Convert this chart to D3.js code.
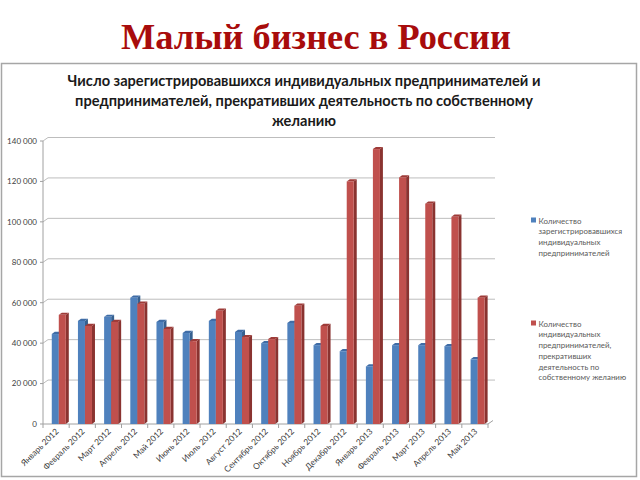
<!DOCTYPE html>
<html><head><meta charset="utf-8">
<script src="https://cdn.jsdelivr.net/npm/d3@7"></script>
<style>body{margin:0;background:#fff}svg{display:block}</style>
</head><body>
<svg id="c" width="640" height="480"></svg>
<script>
const months = ["Январь 2012","Февраль 2012","Март 2012","Апрель 2012","Май 2012","Июнь 2012","Июль 2012","Август 2012","Сентябрь 2012","Октябрь 2012","Ноябрь 2012","Декабрь 2012","Январь 2013","Февраль 2013","Март 2013","Апрель 2013","Май 2013"];
const registered = [44500,51000,53000,62500,50500,45000,51000,45500,40000,50000,39000,36000,28500,39000,39000,38500,32000];
const ceased = [54000,48500,50500,59500,47000,41000,56000,43000,42000,58500,48500,120000,136000,122000,109000,102500,62500];
const yTicks = [0,20000,40000,60000,80000,100000,120000,140000];
const seriesNames = [
  ["Количество","зарегистрировавшихся","индивидуальных","предпринимателей"],
  ["Количество","индивидуальных","предпринимателей,","прекративших","деятельность по","собственному желанию"]
];
const titleText = "Малый бизнес в России";
const chartTitle = ["Число зарегистрировавшихся индивидуальных предпринимателей и","предпринимателей, прекративших деятельность по собственному","желанию"];

const svg = d3.select("#c");
const colors = [{front:"#4F81BD",top:"#3F6CA6",side:"#36608F"},{front:"#C0504D",top:"#9E3B38",side:"#8A3330"}];

function fit(sel, w){
  const node = sel.node();
  let fs = parseFloat(sel.attr("font-size"));
  const len = node.getComputedTextLength();
  if(len>0) sel.attr("font-size", (fs*w/len).toFixed(2));
}

// page title
const t = svg.append("text").attr("x",316).attr("y",49).attr("text-anchor","middle")
  .attr("font-family","Liberation Serif, Times New Roman, serif").attr("font-weight","bold")
  .attr("font-size",32).attr("fill","#A80C0C").text(titleText);
fit(t, 390);

// frame
svg.append("rect").attr("x",1.5).attr("y",63.5).attr("width",635).attr("height",413)
  .attr("fill","#fff").attr("stroke","#A6A6A6").attr("stroke-width",1.5);

// chart title
const ctY = [81,101,121];
let ctSize = 14;
chartTitle.forEach((s,i)=>{
  const tt = svg.append("text").attr("x",304).attr("y",ctY[i]+5).attr("text-anchor","middle")
    .attr("font-family","Lato, Open Sans, sans-serif").attr("font-weight","bold")
    .attr("font-size",ctSize).attr("fill","#1a1a1a").text(s);
  if(i===0){ fit(tt,473); ctSize = tt.attr("font-size"); }
});

const x0=43, x1=488, dX=5, dY=-3.5;
const x = d3.scaleBand().domain(months).range([x0,x1]).padding(0);
const y = d3.scaleLinear().domain([0,140000]).range([424,141]);
const bw = x.bandwidth();

const g = svg.append("g");
// gridlines on back wall with diagonal connectors
yTicks.forEach(v=>{
  const yy = y(v);
  if(v>0){
    g.append("path").attr("d",`M${x0},${yy} L${x0+dX},${yy+dY} L${x1+dX+2},${yy+dY}`)
      .attr("fill","none").attr("stroke","#BDBDBD").attr("stroke-width",1);
  }
});
// floor
g.append("path").attr("d",`M${x0},${y(0)} L${x1},${y(0)} L${x1+dX},${y(0)+dY}`)
  .attr("fill","none").attr("stroke","#A0A0A0").attr("stroke-width",1);
// y axis line
g.append("line").attr("x1",x0).attr("x2",x0).attr("y1",y(140000)).attr("y2",y(0))
  .attr("stroke","#A0A0A0");
// y axis ticks & labels
yTicks.forEach(v=>{
  g.append("line").attr("x1",x0-3).attr("x2",x0).attr("y1",y(v)).attr("y2",y(v)).attr("stroke","#A0A0A0");
  g.append("text").attr("x",37).attr("y",y(v)).attr("dy","0.35em").attr("text-anchor","end")
    .attr("font-family","Lato, sans-serif").attr("font-size",8).attr("fill","#404040")
    .text(d3.format(",")(v).replace(/,/g," "));
});
// x ticks
months.concat([null]).forEach((m,i)=>{
  const xx = x0 + i*bw;
  g.append("line").attr("x1",xx).attr("x2",xx).attr("y1",y(0)).attr("y2",y(0)+4).attr("stroke","#A0A0A0");
});
// x labels
months.forEach(m=>{
  g.append("text").attr("transform",`translate(${x(m)+bw/2+3},${y(0)+8}) rotate(-45)`)
    .attr("text-anchor","end").attr("font-family","Lato, sans-serif").attr("font-size",8.4)
    .attr("fill","#404040").text(m);
});

// bars
const bDx=3, bDy=-2.2;
function bar(xl, w, v, c){
  const xr = xl+w, yt = y(v), yb = y(0);
  g.append("path").attr("d",`M${xr},${yt} L${xr+bDx},${yt+bDy} L${xr+bDx},${yb+bDy} L${xr},${yb}Z`).attr("fill",c.side);
  g.append("path").attr("d",`M${xl},${yt} L${xl+bDx},${yt+bDy} L${xr+bDx},${yt+bDy} L${xr},${yt}Z`).attr("fill",c.top);
  g.append("rect").attr("x",xl).attr("y",yt).attr("width",w).attr("height",yb-yt).attr("fill",c.front);
}
months.forEach((m,i)=>{
  const bx = x(m);
  bar(bx+bw*0.335, bw*0.268, registered[i], colors[0]);
  bar(bx+bw*0.603, bw*0.268, ceased[i], colors[1]);
});

// legend
const legY = [221, 324];
seriesNames.forEach((lines,k)=>{
  svg.append("rect").attr("x",531).attr("y",legY[k]-3.5).attr("width",5).attr("height",5).attr("fill",colors[k].front);
  lines.forEach((s,j)=>{
    svg.append("text").attr("x",538.5).attr("y",legY[k]+j*10.7).attr("dy","0.35em")
      .attr("font-family","Lato, sans-serif").attr("font-size",7.9).attr("fill","#595959").text(s);
  });
});
</script>
</body></html>
